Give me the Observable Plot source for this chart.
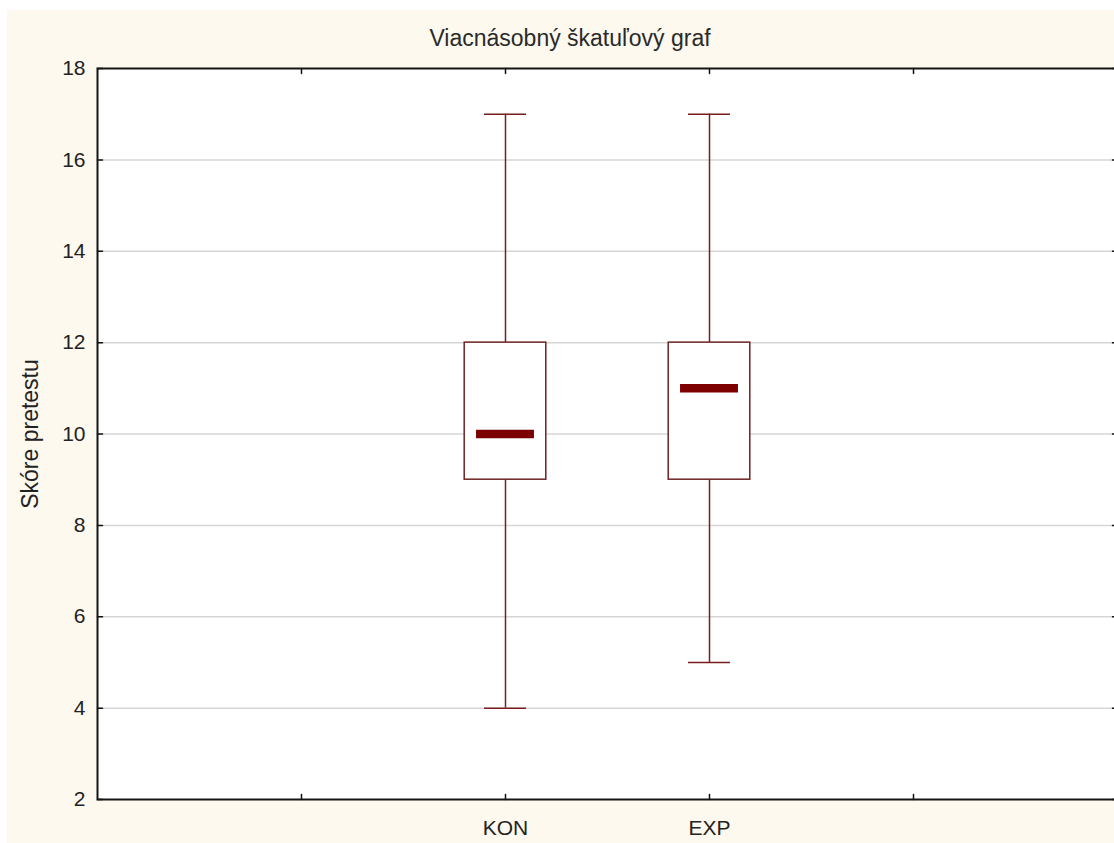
<!DOCTYPE html>
<html>
<head>
<meta charset="utf-8">
<script src="https://cdn.jsdelivr.net/npm/d3@7"></script>
<script src="https://cdn.jsdelivr.net/npm/@observablehq/plot@0.6"></script>
<style>
  html, body { margin: 0; padding: 0; background: #ffffff; overflow: hidden; }
  #wrap { position: absolute; left: 7px; top: 10px; width: 1107px; height: 833px; background: #fdf9ee; overflow: hidden; }
  #title { position: absolute; left: 0; top: 17px; width: 1126px; text-align: center; font-family: "Liberation Sans", Arial, sans-serif; font-size: 23px; line-height: 22px; color: #2a2a2a; }
  #chart { position: absolute; left: 0; top: 48px; }
  #chart svg { max-width: none !important; }
</style>
</head>
<body>
<div id="wrap">
  <div id="title">Viacnásobný škatuľový graf</div>
  <div id="chart"></div>
</div>
<script>
const title = "Viacnásobný škatuľový graf";
const yLabel = "Skóre pretestu";
const groups = ["KON", "EXP"];
const mins = [4, 5];
const q1s = [9, 9];
const medians = [10, 11];
const q3s = [12, 12];
const maxs = [17, 17];
const yTicks = [2, 4, 6, 8, 10, 12, 14, 16, 18];
const gridValues = [4, 6, 8, 10, 12, 14, 16];
const xTickSlots = [1, 2, 3, 4];

// build the table (slot positions: categories sit on the inner ticks)
const rows = groups.map((g, i) => ({
  group: g, pos: i + 2, min: mins[i], q1: q1s[i], med: medians[i], q3: q3s[i], max: maxs[i]
}));
const labelAt = new Map(rows.map(r => [r.pos, r.group]));

const boxHalf = 0.2, capHalf = 0.103, medHalf = 0.142;
const boxStroke = "#6e2222";
const whisker = "#7a1c1c";
const medianFill = "#7d0000";

const tickShape = { draw(ctx, l) { ctx.moveTo(0, 0); ctx.lineTo(0, -l); } };

const chart = Plot.plot({
  width: 1120,
  height: 785,
  marginTop: 10,
  marginBottom: 44,
  marginLeft: 90,
  marginRight: 10,
  style: { fontFamily: "'Liberation Sans', Arial, sans-serif", fontSize: "21px", color: "#222", background: "transparent", overflow: "visible", maxWidth: "none" },
  x: { domain: [0, 5] },
  y: { domain: [2, 18] },
  marks: [
    Plot.frame({ fill: "#ffffff" }),
    Plot.ruleY(gridValues, { stroke: "#d6d6d6", strokeWidth: 1.5 }),
    Plot.axisY(yTicks, { tickSize: 0, tickPadding: 12, label: null, fontSize: 21 }),
    Plot.text([yLabel], { frameAnchor: "left", textAnchor: "middle", lineAnchor: "middle", rotate: -90, dx: -67, fontSize: 23, fill: "#222" }),
    Plot.axisX(xTickSlots, { tickSize: 0, tickPadding: 21, tickFormat: d => labelAt.get(d) ?? "", label: null, fontSize: 21 }),
    // inward tick marks
    Plot.vector(yTicks, { y: d => d, frameAnchor: "left", rotate: 90, length: 5, anchor: "start", shape: tickShape, stroke: "#111", strokeWidth: 1.5 }),
    Plot.vector(yTicks, { y: d => d, frameAnchor: "right", rotate: -90, length: 5, anchor: "start", shape: tickShape, stroke: "#111", strokeWidth: 1.5 }),
    Plot.vector(xTickSlots, { x: d => d, frameAnchor: "bottom", rotate: 0, length: 5, anchor: "start", shape: tickShape, stroke: "#111", strokeWidth: 1.5 }),
    Plot.vector(xTickSlots, { x: d => d, frameAnchor: "top", rotate: 180, length: 5, anchor: "start", shape: tickShape, stroke: "#111", strokeWidth: 1.5 }),
    // whiskers
    Plot.ruleX(rows, { x: "pos", y1: "min", y2: "q1", stroke: whisker, strokeWidth: 1.5 }),
    Plot.ruleX(rows, { x: "pos", y1: "q3", y2: "max", stroke: whisker, strokeWidth: 1.5 }),
    Plot.ruleY(rows, { y: "min", x1: d => d.pos - capHalf, x2: d => d.pos + capHalf, stroke: whisker, strokeWidth: 1.5 }),
    Plot.ruleY(rows, { y: "max", x1: d => d.pos - capHalf, x2: d => d.pos + capHalf, stroke: whisker, strokeWidth: 1.5 }),
    // boxes
    Plot.rect(rows, { x1: d => d.pos - boxHalf, x2: d => d.pos + boxHalf, y1: "q1", y2: "q3", fill: "#ffffff", stroke: boxStroke, strokeWidth: 1.5 }),
    // medians
    Plot.ruleY(rows, { y: "med", x1: d => d.pos - medHalf, x2: d => d.pos + medHalf, stroke: medianFill, strokeWidth: 8.5 }),
    Plot.frame({ stroke: "#151515", strokeWidth: 2 })
  ]
});
document.getElementById("chart").appendChild(chart);
</script>
</body>
</html>
